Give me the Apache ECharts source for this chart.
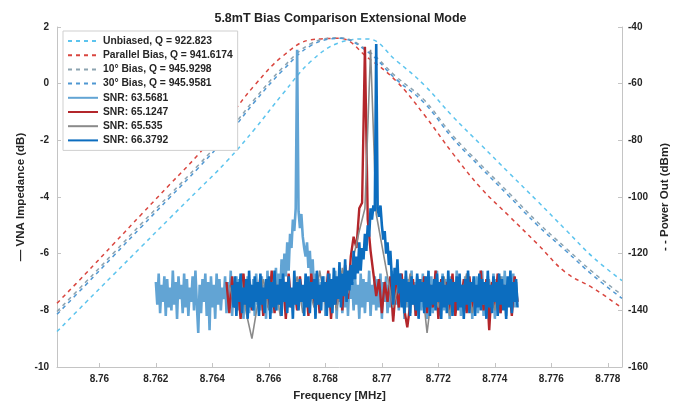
<!DOCTYPE html>
<html>
<head>
<meta charset="utf-8">
<script src="https://cdn.jsdelivr.net/npm/echarts@6/dist/echarts.min.js"></script>
<style>
  html, body { margin: 0; padding: 0; background: #fff; }
  #chart { width: 681px; height: 407px; }
</style>
</head>
<body>
<div id="chart"></div>
<script>
// x ticks
var xTicks = [8.76, 8.762, 8.764, 8.766, 8.768, 8.77, 8.772, 8.774, 8.776, 8.778];
var xTickLabels = ['8.76', '8.762', '8.764', '8.766', '8.768', '8.77', '8.772', '8.774', '8.776', '8.778'];

// resonance sweeps (left axis, dB), sampled every 0.001 MHz
var sweepFreqs = [8.7585, 8.7595, 8.7605, 8.7615, 8.7625, 8.7635, 8.7645, 8.7655, 8.7665, 8.7675, 8.7685,
                  8.7695, 8.7705, 8.7715, 8.7725, 8.7735, 8.7745, 8.7755, 8.7765, 8.7775, 8.7785];
var unbiased = [-8.75, -7.74, -6.74, -5.74, -4.74, -3.75, -2.75, -1.6, -0.35, 0.8, 1.45,
                1.58, 0.82, -0.05, -1.15, -2.15, -3.15, -4.14, -5.15, -6.15, -6.95];
var parallel = [-7.75, -6.72, -5.66, -4.6, -3.55, -2.5, -1.3, -0.05, 0.98, 1.55, 1.6,
                0.92, 0.1, -1.1, -2.45, -3.68, -4.67, -5.65, -6.66, -7.23, -7.92];
var bias10 = [-8.04, -7.02, -5.98, -4.93, -3.91, -2.88, -1.78, -0.54, 0.58, 1.42, 1.62,
              1.17, 0.25, -0.58, -1.82, -2.86, -3.86, -4.88, -5.79, -6.68, -7.46];
var bias30 = [-8.14, -7.12, -6.08, -5.04, -4.01, -2.98, -1.88, -0.64, 0.48, 1.35, 1.6,
              1.12, 0.16, -0.68, -1.92, -2.96, -3.97, -4.99, -5.89, -6.79, -7.58];

// output spectra (right axis, dBm), start frequency + fixed step
var snr1Start = 8.7620, snr1Step = 0.00005;
var snr1 = [-130, -138, -127, -141, -131, -137, -128, -142, -129, -139,
            -132, -140, -126, -138, -130, -143, -128, -136, -131, -141,
            -127, -139, -129, -142, -132, -137, -128, -140, -126, -138,
            -148, -131, -141, -129, -137, -127, -142, -130, -147, -128,
            -139, -131, -143, -127, -138, -129, -140, -132, -136, -128,
            -141, -130, -139, -126, -142, -131, -137, -128, -140, -129,
            -138, -127, -143, -130, -139, -128, -141, -131, -136, -129,
            -142, -127, -138, -130, -140, -128, -137, -131, -143, -126,
            -139, -129, -141, -128, -136, -125, -140, -127, -134, -122,
            -131, -120, -128, -116, -126, -113, -118, -108, -112, -104,
            -48, -105, -111, -106, -114, -118, -121, -116, -125, -119,
            -129, -122, -133, -127, -138, -129, -141, -130, -137, -128,
            -142, -131, -139, -127, -140, -129, -138, -126, -143, -130,
            -137, -128, -141, -131, -139, -127, -142, -129, -136, -130,
            -140, -128, -138, -131, -143, -127, -139, -129, -141, -130,
            -137, -126, -142, -131, -138, -128, -140, -129, -139, -127,
            -143, -130, -137, -128, -141, -131, -139, -126, -142, -129,
            -138, -130, -140, -127, -137, -131, -143, -128, -139, -129,
            -141, -126, -138, -130, -142, -128, -136, -131, -140, -127,
            -139, -129, -143, -130, -137, -128, -141, -131, -138, -126,
            -142, -130, -139, -127, -140, -129, -137, -131, -143, -128,
            -138, -130, -141, -126, -139, -129, -142, -131, -137, -128,
            -140, -127, -138, -130, -143, -129, -139, -128, -141, -131,
            -137, -126, -142, -130, -139, -128, -140, -131, -138, -127,
            -143, -129, -137, -130, -141, -128, -139, -126, -142, -131,
            -138, -129, -140, -127, -139, -130, -137];

var snr2Start = 8.7645, snr2Step = 0.0001;
var snr2 = [-130, -141, -128, -139, -131, -143, -127, -138, -129, -140,
            -132, -137, -128, -142, -130, -139, -126, -141, -131, -138,
            -129, -143, -127, -139, -132, -140, -128, -137, -130, -142,
            -127, -138, -131, -141, -129, -137, -126, -143, -130, -139,
            -128, -140, -124, -136, -121, -114, -118, -104, -102, -47,
            -108, -119, -127, -135, -129, -141, -130, -137, -128, -144,
            -131, -139, -127, -140, -146, -138, -129, -142, -130, -137,
            -128, -141, -131, -139, -126, -143, -129, -138, -130, -140,
            -127, -142, -131, -137, -129, -141, -128, -139, -132, -138,
            -126, -140, -129, -147, -130, -139, -127, -141, -131, -138,
            -129, -142, -128, -137];

var snr3Start = 8.7646, snr3Step = 0.0002;
var snr3 = [-131, -139, -128, -141, -150, -138, -129, -140, -127, -142,
            -130, -137, -128, -141, -131, -139, -126, -138, -129, -140,
            -125, -134, -121, -112, -104, -48, -106, -117, -128, -139,
            -130, -141, -127, -138, -129, -148, -131, -139, -128, -142,
            -130, -137, -127, -141, -131, -138, -129, -140, -128, -139, -130];

var snr4Start = 8.7647, snr4Step = 0.00005;
var snr4 = [-131, -139, -128, -142, -130, -137, -127, -141, -132, -138,
            -129, -143, -126, -139, -131, -140, -128, -137, -130, -142,
            -127, -138, -132, -141, -129, -136, -128, -143, -130, -139,
            -126, -140, -131, -138, -129, -142, -127, -137, -130, -141,
            -128, -139, -132, -143, -126, -138, -130, -140, -129, -137,
            -131, -142, -127, -139, -128, -141, -130, -136, -129, -143,
            -126, -138, -131, -140, -128, -137, -130, -142, -127, -139,
            -129, -141, -125, -138, -128, -136, -123, -139, -127, -135,
            -122, -137, -126, -133, -124, -131, -119, -129, -121, -127,
            -116, -126, -118, -122, -113, -119, -110, -114, -104, -108,
            -103, -105, -46, -104, -107, -103, -110, -115, -112, -120,
            -116, -124, -119, -128, -138, -125, -131, -122, -134, -127,
            -139, -129, -141, -126, -137, -130, -142, -128, -138, -131,
            -140, -127, -143, -129, -137, -130, -141, -128, -139, -126,
            -142, -131, -138, -129, -140, -127, -137, -130, -143, -128,
            -139, -131, -141, -126, -138, -129, -142, -130, -137, -128,
            -140, -127, -139, -131, -143, -129, -138, -126, -141, -130,
            -137, -128, -142, -131, -139, -127, -140, -129, -138, -130,
            -143, -126, -139, -131, -141, -128, -137, -130, -142, -127,
            -138, -129, -140, -131, -143, -128, -139, -126, -141, -130,
            -137, -129, -139];

function pairs(freqs, vals) {
  var out = [];
  for (var i = 0; i < vals.length; ++i) out.push([freqs[i], vals[i]]);
  return out;
}

function stepped(start, step, vals) {
  var out = [];
  for (var i = 0; i < vals.length; ++i) out.push([+(start + i * step).toFixed(5), vals[i]]);
  return out;
}

function dashed(name, color, vals) {
  return {
    name: name, type: 'line', yAxisIndex: 0, data: pairs(sweepFreqs, vals),
    symbol: 'none', smooth: 0.4,
    lineStyle: { color: color, width: 1.5, type: [4, 4] },
    itemStyle: { color: color }, z: 2
  };
}

function spectrum(name, color, start, step, vals, width) {
  return {
    name: name, type: 'line', yAxisIndex: 1, data: stepped(start, step, vals),
    symbol: 'none',
    lineStyle: { color: color, width: width },
    itemStyle: { color: color }, z: 3
  };
}

var chart = echarts.init(document.getElementById('chart'));
var labelText = { color: '#262626', fontSize: 10, fontWeight: 'bold', fontFamily: 'Liberation Sans' };
var nameText = { color: '#262626', fontSize: 11.5, fontWeight: 'bold', fontFamily: 'Liberation Sans' };

var option = {
  backgroundColor: '#fff',
  animation: false,
  title: {
    text: '5.8mT Bias Comparison Extensional Mode',
    left: 'center', top: 7,
    textStyle: { color: '#222', fontSize: 12.5, fontWeight: 'bold', fontFamily: 'Liberation Sans' }
  },
  legend: {
    orient: 'vertical', left: 63, top: 31,
    itemWidth: 30, itemHeight: 10, itemGap: 2.2,
    padding: [4, 5, 4, 4],
    backgroundColor: '#fff', borderColor: '#cfcfcf', borderWidth: 1,
    itemStyle: { opacity: 0 },
    textStyle: { color: '#262626', fontSize: 10.3, lineHeight: 12, fontWeight: 'bold', fontFamily: 'Liberation Sans' },
    data: ['Unbiased, Q = 922.823', 'Parallel Bias, Q = 941.6174', '10° Bias, Q = 945.9298', '30° Bias, Q = 945.9581',
           'SNR: 63.5681', 'SNR: 65.1247', 'SNR: 65.535', 'SNR: 66.3792']
  },
  grid: { left: 57, right: 59, top: 27, bottom: 40 },
  xAxis: {
    type: 'value', min: 8.7585, max: 8.7785,
    name: 'Frequency [MHz]', nameLocation: 'middle', nameGap: 23,
    nameTextStyle: nameText,
    axisLine: { show: true, onZero: false, lineStyle: { color: '#c4c4c4' } },
    axisTick: { show: true, inside: true, length: 4, customValues: xTicks, lineStyle: { color: '#c4c4c4' } },
    axisLabel: Object.assign({ margin: 7, customValues: xTicks,
      formatter: function (v) { var i = xTicks.indexOf(v); return i >= 0 ? xTickLabels[i] : ''; } }, labelText),
    splitLine: { show: false }
  },
  yAxis: [
    {
      type: 'value', min: -10, max: 2, interval: 2, position: 'left',
      name: '— VNA Impedance (dB)', nameLocation: 'middle', nameGap: 30, nameMoveOverlap: false,
      nameTextStyle: nameText,
      axisLine: { show: true, lineStyle: { color: '#c4c4c4' } },
      axisTick: { show: true, inside: true, length: 4, lineStyle: { color: '#c4c4c4' } },
      axisLabel: Object.assign({ margin: 8 }, labelText),
      splitLine: { show: false }
    },
    {
      type: 'value', min: -160, max: -40, interval: 20, position: 'right',
      name: '- - Power Out (dBm)', nameLocation: 'middle', nameGap: 31, nameRotate: 90,
      nameTextStyle: nameText,
      axisLine: { show: true, lineStyle: { color: '#c4c4c4' } },
      axisTick: { show: true, inside: true, length: 4, lineStyle: { color: '#c4c4c4' } },
      axisLabel: Object.assign({ margin: 6 }, labelText),
      splitLine: { show: false }
    }
  ],
  series: [
    dashed('Unbiased, Q = 922.823', '#5CC4EE', unbiased),
    dashed('Parallel Bias, Q = 941.6174', '#D9463F', parallel),
    dashed('10° Bias, Q = 945.9298', '#8CA3B0', bias10),
    dashed('30° Bias, Q = 945.9581', '#4F97D2', bias30),
    spectrum('SNR: 63.5681', '#62A4D4', snr1Start, snr1Step, snr1, 2.6),
    spectrum('SNR: 65.1247', '#B3262B', snr2Start, snr2Step, snr2, 2.4),
    spectrum('SNR: 65.535', '#8A8A8A', snr3Start, snr3Step, snr3, 1.6),
    spectrum('SNR: 66.3792', '#0C6DBF', snr4Start, snr4Step, snr4, 2.6)
  ]
};

chart.setOption(option);

window.addEventListener('resize', function () {
  chart.resize();
});
</script>
</body>
</html>
